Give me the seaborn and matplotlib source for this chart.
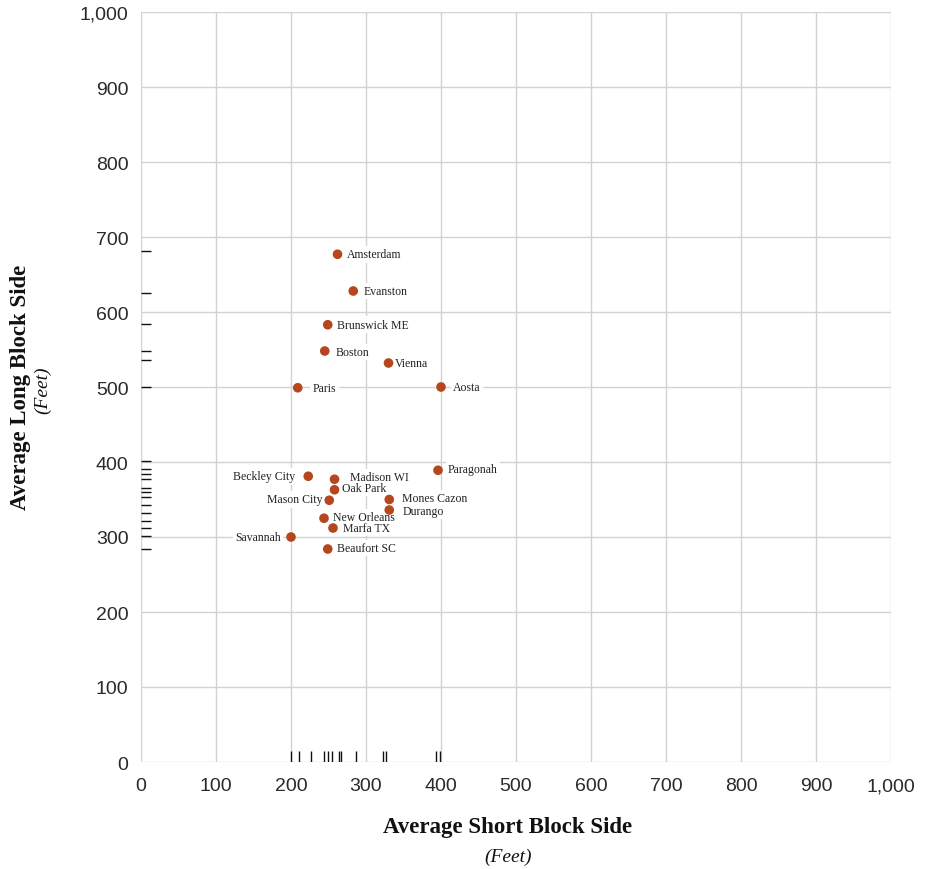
import matplotlib
matplotlib.use("Agg")
import matplotlib.pyplot as plt
import seaborn as sns
import pandas as pd

# ---- data ----
cities = ["Amsterdam", "Evanston", "Brunswick ME", "Boston", "Vienna", "Paris",
          "Aosta", "Paragonah", "Beckley City", "Madison WI", "Oak Park",
          "Mason City", "Mones Cazon", "Durango", "New Orleans", "Marfa TX",
          "Savannah", "Beaufort SC"]
short_side = [262, 283, 249, 245, 330, 209, 400, 396, 223, 258, 258, 251,
              331, 331, 244, 256, 200, 249]
long_side = [677, 628, 583, 548, 532, 499, 500, 389, 381, 377, 363, 349,
             350, 336, 325, 312, 300, 284]

rug_short = [200, 210, 226, 244, 249, 255, 264, 267, 286, 322, 327, 393, 399]
rug_long = [681, 626, 584, 548, 536, 500, 402, 391, 384, 377, 366, 360, 353,
            343, 332, 322, 312, 301, 284]

tick_values = [0, 100, 200, 300, 400, 500, 600, 700, 800, 900, 1000]
tick_labels = ["0", "100", "200", "300", "400", "500", "600", "700", "800",
               "900", "1,000"]

# label placement (pixels relative to dot: dx, dy, alignment)
label_style = {
    "Amsterdam": (9, 0, "left"), "Evanston": (10, 0, "left"),
    "Brunswick ME": (9, 0, "left"), "Boston": (11, -1, "left"),
    "Vienna": (6, 0, "left"), "Paris": (15, 0, "left"),
    "Aosta": (12, 0, "left"), "Paragonah": (10, 1, "left"),
    "Beckley City": (-13, 0, "right"), "Madison WI": (15, 2, "left"),
    "Oak Park": (7, 2, "left"), "Mason City": (-7, 1, "right"),
    "Mones Cazon": (13, 1, "left"), "Durango": (13, -1, "left"),
    "New Orleans": (9, 1, "left"), "Marfa TX": (10, 0, "left"),
    "Savannah": (-10, 0, "right"), "Beaufort SC": (9, 1, "left"),
}

df = pd.DataFrame({"city": cities, "short": short_side, "long": long_side})

sns.set_theme(style="white")
plt.rcParams["font.family"] = ["Liberation Sans", "DejaVu Sans"]

W, H = 930, 870
fig = plt.figure(figsize=(W / 100, H / 100), dpi=100)
ax = fig.add_axes([141 / W, 1 - 763 / H, 750 / W, 750 / H])

dot_color = "#b5461d"
sns.scatterplot(data=df, x="short", y="long", ax=ax, s=48, color=dot_color,
                edgecolor="none", linewidth=0, zorder=5, legend=False)

sns.rugplot(x=rug_short, ax=ax, height=11 / 750, lw=2.2, color="#111111",
            zorder=6, expand_margins=False)
sns.rugplot(y=rug_long, ax=ax, height=10 / 750, lw=2.2, color="#111111",
            zorder=6, expand_margins=False)

serif = ["Liberation Serif", "DejaVu Serif"]
# white backing boxes (hide grid lines behind labels) then the label texts
for c, x, y in zip(cities, short_side, long_side):
    dx, dy, ha = label_style[c]
    ax.annotate(c, (x, y), xytext=(dx, dy), textcoords="offset pixels",
                ha=ha, va="center", fontsize=8.5, family=serif,
                color="white", zorder=3,
                bbox=dict(boxstyle="square,pad=0.2", fc="white", ec="none"))
for c, x, y in zip(cities, short_side, long_side):
    dx, dy, ha = label_style[c]
    ax.annotate(c, (x, y), xytext=(dx, dy), textcoords="offset pixels",
                ha=ha, va="center", fontsize=8.5, family=serif,
                color="#222222", zorder=4)

ax.set_xlim(0, 1000)
ax.set_ylim(0, 1000)
ax.set_xticks(tick_values)
ax.set_xticklabels(tick_labels)
ax.set_yticks(tick_values)
ax.set_yticklabels(tick_labels)
ax.grid(True, color="#d2d2d2", lw=1.0, zorder=0)
ax.set_axisbelow(True)
for s in ax.spines.values():
    s.set_visible(False)
ax.tick_params(axis="both", length=0, labelsize=14, labelcolor="#2a2a2a")
ax.tick_params(axis="x", pad=11)
ax.tick_params(axis="y", pad=9)
ax.set_xlabel("")
ax.set_ylabel("")

fig.text(508 / W, 1 - 828 / H, "Average Short Block Side", ha="center",
         va="center", fontsize=16.5, fontweight="bold", family=serif, color="#111111")
fig.text(508 / W, 1 - 857 / H, "(Feet)", ha="center", va="center",
         fontsize=14, style="italic", family=serif, color="#111111")
fig.text(21 / W, 1 - 387 / H, "Average Long Block Side", ha="center",
         va="center", rotation=90, fontsize=16.5, fontweight="bold",
         family=serif, color="#111111")
fig.text(43 / W, 1 - 390 / H, "(Feet)", ha="center", va="center",
         rotation=90, fontsize=14, style="italic", family=serif, color="#111111")

fig.savefig("out.png", dpi=100, facecolor="white")
